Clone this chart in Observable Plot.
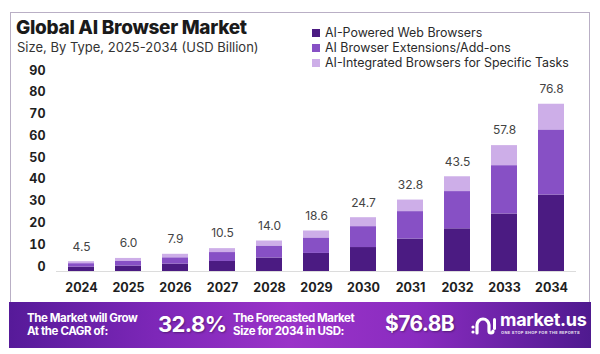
<!DOCTYPE html>
<html><head><meta charset="utf-8">
<script src="https://cdn.jsdelivr.net/npm/d3@7"></script>
<script src="https://cdn.jsdelivr.net/npm/@observablehq/plot@0.6"></script>
<style>
body{margin:0;background:#fff;font-family:Inter,"Open Sans",sans-serif;}
#wrap{position:relative;width:600px;height:354px;overflow:hidden;background:#fff}
#frame{position:absolute;left:10px;top:12px;width:580px;height:300px;border:1.5px solid #b9afc5;box-sizing:border-box}
#chart{position:absolute;left:0;top:0}
#title{position:absolute;left:16px;top:16px;font-size:19px;font-weight:800;color:#1a1a1a;letter-spacing:-0.3px;white-space:nowrap}
#subtitle{position:absolute;left:17px;top:39px;font-size:13px;color:#333;white-space:nowrap}
#legend{position:absolute;left:312px;top:25px;font-size:12.4px;color:#2a2a2a}
#legend div{height:15px;line-height:15px;white-space:nowrap;display:flex;align-items:center}
#legend span.sw{display:inline-block;width:8px;height:8px;margin-right:5px}
#footer{position:absolute;left:9px;top:302px;width:582px;height:46px;background:linear-gradient(90deg,#561a99 0%,#7d27b8 25%,#9a33c8 48%,#8a2cc0 70%,#4f1a8f 100%);color:#fff}
.ft{position:absolute;font-weight:700;white-space:nowrap}
</style></head>
<body><div id="wrap">
<div id="frame"></div>
<div id="chart"></div>
<div id="title">Global AI Browser Market</div>
<div id="subtitle">Size, By Type, 2025-2034 (USD Billion)</div>
<div id="legend"></div>
<div id="footer">
  <div class="ft" style="left:18px;top:10px;font-size:11.5px;line-height:13px;letter-spacing:-0.4px">The Market will Grow<br>At the CAGR of:</div>
  <div class="ft" style="left:149px;top:9px;font-size:22px;line-height:26px;letter-spacing:-0.6px;text-shadow:1px 1px 2px rgba(0,0,0,.35)">32.8%</div>
  <div class="ft" style="left:224px;top:10px;font-size:11.5px;line-height:13px;letter-spacing:-0.4px">The Forecasted Market<br>Size for 2034 in USD:</div>
  <div class="ft" style="left:376px;top:9px;font-size:21px;line-height:26px;letter-spacing:-0.6px;text-shadow:1px 1px 2px rgba(0,0,0,.35)">$76.8B</div>
  <svg style="position:absolute;left:462px;top:13px" width="26" height="20" viewBox="0 0 26 20">
    <path d="M6 18 V10 A6 6 0 0 1 18 10 V16 A2 2 0 0 0 22 16" fill="none" stroke="#fff" stroke-width="3.2" stroke-linecap="round"/>
    <circle cx="2" cy="12" r="1.6" fill="#fff"/><circle cx="2" cy="17" r="1.6" fill="#fff"/>
    <rect x="22" y="3" width="3" height="12" rx="1.5" fill="#fff"/>
  </svg>
  <div class="ft" style="left:491px;top:8px;font-size:18px;line-height:20px;letter-spacing:-0.3px">market.us</div>
  <div class="ft" style="left:492px;top:28px;font-size:4px;line-height:5px;letter-spacing:0.3px;opacity:.85">ONE STOP SHOP FOR THE REPORTS</div>
</div>
</div>
<script>
const years = ["2024","2025","2026","2027","2028","2029","2030","2031","2032","2033","2034"];
const seriesNames = ["AI-Powered Web Browsers","AI Browser Extensions/Add-ons","AI-Integrated Browsers for Specific Tasks"];
const poweredBrowsers = [2.0,2.5,3.4,4.6,6.2,8.3,11.0,14.9,19.6,26.4,35.1];
const extensionsAddons = [1.6,2.1,2.9,4.1,5.5,7.1,9.6,12.6,17.1,22.2,29.9];
const specificTasks = [0.9,1.4,1.6,1.8,2.3,3.2,4.1,5.3,6.8,9.2,11.8];
const totals = [4.5,6.0,7.9,10.5,14.0,18.6,24.7,32.8,43.5,57.8,76.8];
const yTicks = [0,10,20,30,40,50,60,70,80,90];

const colors = ["#4b1b82","#8750c5","#cdaee8"];

const seriesValues = [poweredBrowsers, extensionsAddons, specificTasks];
const rows = [];
seriesNames.forEach((s, si) => years.forEach((y, i) => rows.push({year: y, series: s, order: si, value: seriesValues[si][i]})));
const totalRows = years.map((y, i) => ({year: y, total: totals[i]}));

const chart = Plot.plot({
  width: 600, height: 300,
  marginLeft: 56, marginRight: 24, marginTop: 75, marginBottom: 29,
  style: {fontFamily: "Inter, 'Open Sans', sans-serif", background: "transparent"},
  x: {domain: years, paddingInner: 0.45, paddingOuter: 0.25, label: null},
  y: {domain: [0, 90], label: null},
  color: {domain: seriesNames, range: colors},
  marks: [
    Plot.ruleY([0], {stroke: "#dcdcdc", strokeWidth: 1.2}),
    Plot.barY(rows, {x: "year", y: "value", fill: "series", order: seriesNames}),
    Plot.text(totalRows, {x: "year", y: "total", text: d => d.total.toFixed(1), dy: -15, fontSize: 12, fill: "#444"}),
    Plot.axisX({tickSize: 0, tickPadding: 12, fontSize: 12.5, fontWeight: 700, fill: "#1e1e1e", label: null}),
    Plot.axisY({ticks: yTicks, tickSize: 0, tickPadding: 11, fontSize: 12.5, fontWeight: 700, fill: "#1e1e1e", dy: -5, label: null})
  ]
});
document.getElementById("chart").appendChild(chart);

const legend = document.getElementById("legend");
seriesNames.forEach((s, i) => {
  const row = document.createElement("div");
  const sw = document.createElement("span");
  sw.className = "sw"; sw.style.background = colors[i];
  row.appendChild(sw);
  row.appendChild(document.createTextNode(s));
  legend.appendChild(row);
});
</script>
</body></html>
